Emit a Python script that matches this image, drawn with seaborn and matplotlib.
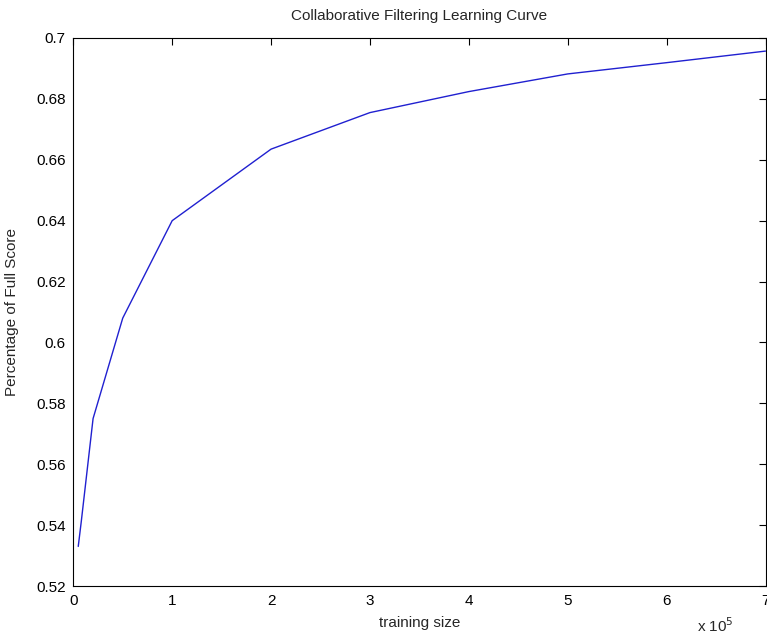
import numpy as np
import pandas as pd
import matplotlib
matplotlib.use("Agg")
import matplotlib.pyplot as plt
import seaborn as sns

# training sizes and score fraction
training_size = [5000, 8000, 20000, 50000, 100000, 200000, 300000, 400000, 500000, 600000, 700000]
score = [0.533, 0.541, 0.575, 0.608, 0.640, 0.6635, 0.6755, 0.6824, 0.6882, 0.6919, 0.6957]

x_ticks = [0, 1, 2, 3, 4, 5, 6, 7]
y_ticks = [0.52, 0.54, 0.56, 0.58, 0.6, 0.62, 0.64, 0.66, 0.68, 0.7]

df = pd.DataFrame({"size": training_size, "score": score})

sns.set_style("white")
plt.rcParams['font.family'] = ['Liberation Sans', 'DejaVu Sans']

fig = plt.figure(figsize=(7.67, 6.34), dpi=100)
ax = fig.add_axes([73.3 / 767, 1 - 586 / 634, (765.5 - 73.3) / 767, (586 - 38) / 634])

sns.lineplot(data=df, x="size", y="score", ax=ax, color="#2020d0", linewidth=1.0)

ax.set_xlim(0, 700000)
ax.set_ylim(0.52, 0.7)
ax.set_xticks([t * 1e5 for t in x_ticks])
ax.set_xticklabels([str(t) for t in x_ticks])
ax.set_yticks(y_ticks)
ax.set_yticklabels([f"{t:g}" for t in y_ticks])

ax.tick_params(direction="in", length=5, width=0.8, top=True, right=True,
               labelsize=11, colors="black", pad=5.5)
for s in ax.spines.values():
    s.set_visible(True)
    s.set_color("black")
    s.set_linewidth(0.8)

ax.set_title("Collaborative Filtering Learning Curve", fontsize=11, pad=13)
ax.set_xlabel("training size", fontsize=11, labelpad=6)
ax.set_ylabel("Percentage of Full Score", fontsize=11, labelpad=12)

fig.text(697 / 767, 1 - 626 / 634, r"x 10$^{5}$", fontsize=11, ha="left", va="center")

fig.savefig("out.png", dpi=100, facecolor="white")
